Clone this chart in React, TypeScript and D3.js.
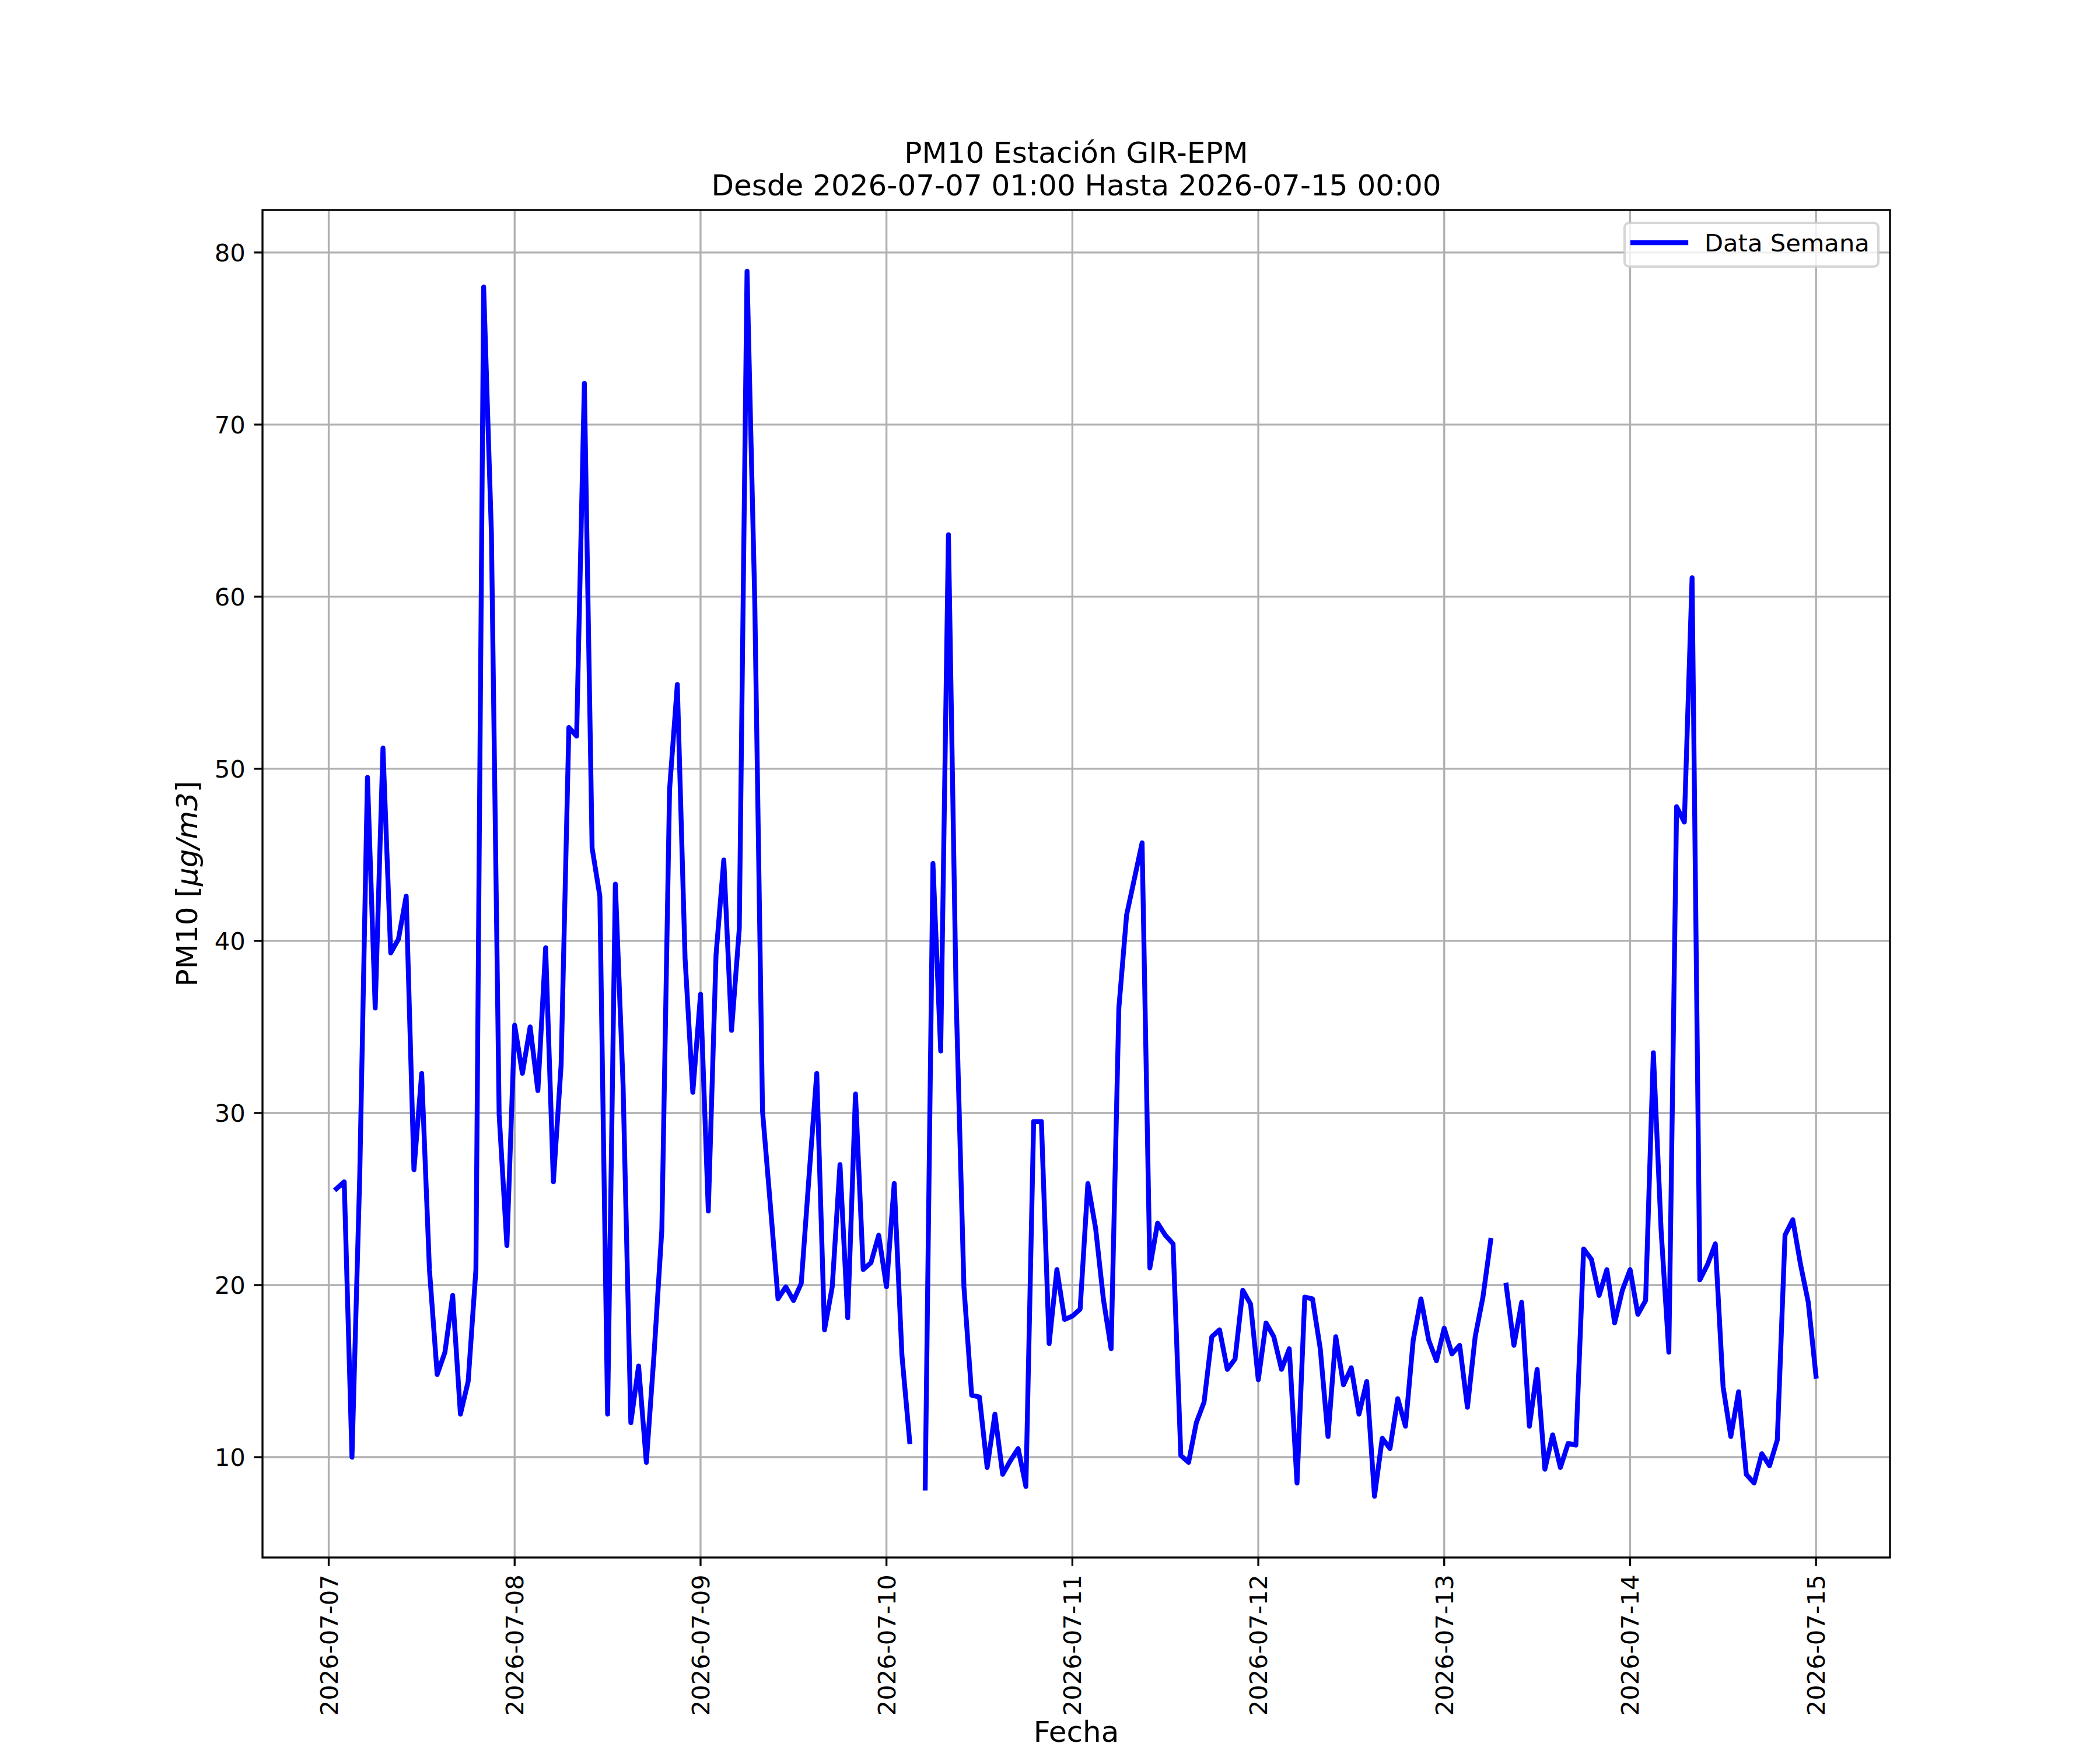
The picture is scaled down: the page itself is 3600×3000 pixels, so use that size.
import React from "react";
import * as d3 from "d3";

// hourly PM10 readings, 2026-07-07 01:00 .. 2026-07-15 00:00 (null = missing hour)
const startTime = Date.UTC(2026, 6, 7, 1);
const pm10: (number | null)[] = [
	25.6, 26.0, 10.0, 26.3, 49.5, 36.1, 51.2, 39.3, 40.1, 42.6, 26.7, 32.3,
	20.9, 14.8, 16.1, 19.4, 12.5, 14.4, 20.9, 78.0, 63.7, 29.9, 22.3, 35.1,
	32.3, 35.0, 31.3, 39.6, 26.0, 32.8, 52.4, 51.9, 72.4, 45.4, 42.6, 12.5,
	43.3, 31.6, 12.0, 15.3, 9.7, 16.0, 23.2, 48.8, 54.9, 39.0, 31.2, 36.9,
	24.3, 39.2, 44.7, 34.8, 40.7, 78.91, 59.7, 30.1, 24.7, 19.2, 19.9, 19.1,
	20.1, 26.3, 32.3, 17.4, 19.9, 27.0, 18.1, 31.1, 20.9, 21.3, 22.9, 19.9,
	25.9, 15.9, 10.9, null, 8.2, 44.5, 33.6, 63.6, 36.6, 19.9, 13.6, 13.5,
	9.4, 12.5, 9.0, 9.8, 10.5, 8.3, 29.5, 29.5, 16.6, 20.9, 18.0, 18.2,
	18.6, 25.9, 23.3, 19.2, 16.3, 36.1, 41.5, 43.6, 45.7, 21.0, 23.6, 22.9,
	22.4, 10.1, 9.7, 12.0, 13.2, 17.0, 17.4, 15.1, 15.7, 19.7, 18.9, 14.5,
	17.8, 17.0, 15.1, 16.3, 8.5, 19.3, 19.2, 16.3, 11.2, 17.0, 14.2, 15.2,
	12.5, 14.4, 7.73, 11.1, 10.5, 13.4, 11.8, 16.8, 19.2, 16.8, 15.6, 17.5,
	16.0, 16.5, 12.9, 17.0, 19.3, 22.6, null, 20.0, 16.5, 19.0, 11.8, 15.1,
	9.3, 11.3, 9.4, 10.8, 10.7, 22.1, 21.5, 19.4, 20.9, 17.8, 19.7, 20.9,
	18.3, 19.1, 33.5, 23.2, 16.1, 47.8, 46.9, 61.1, 20.3, 21.2, 22.4, 14.1,
	11.2, 13.8, 9.0, 8.5, 10.2, 9.5, 11.0, 22.9, 23.8, 21.2, 19.0, 14.7,
];
const yTicks = [10, 20, 30, 40, 50, 60, 70, 80];
const titleLines = ["PM10 Estación GIR-EPM", "Desde 2026-07-07 01:00 Hasta 2026-07-15 00:00"];
const seriesName = "Data Semana";

const W = 3600;
const H = 3000;
const left = 450, right = 3240, top = 360, bottom = 2670;
const px = (pt: number) => (pt * 300) / 72;
const font = "'DejaVu Sans', sans-serif";

const App: React.FC = () => {
	const data = pm10.map((v, i) => ({ t: new Date(startTime + i * 3600e3), v }));
	const t0 = data[0].t.getTime();
	const t1 = data[data.length - 1].t.getTime();
	const tPad = (t1 - t0) * 0.05;
	const x = d3.scaleUtc().domain([new Date(t0 - tPad), new Date(t1 + tPad)]).range([left, right]);

	const vals = pm10.filter((v): v is number => v != null);
	const vMin = d3.min(vals)!;
	const vMax = d3.max(vals)!;
	const vPad = (vMax - vMin) * 0.05;
	const y = d3.scaleLinear().domain([vMin - vPad, vMax + vPad]).range([bottom, top]);

	const xTicks = d3.utcDay.range(d3.utcDay.ceil(x.domain()[0]), x.domain()[1]);
	const fmt = d3.utcFormat("%Y-%m-%d");

	const line = d3
		.line<{ t: Date; v: number | null }>()
		.defined((d) => d.v != null)
		.x((d) => x(d.t))
		.y((d) => y(d.v as number));

	const tickLen = px(3.5);
	const tickPad = px(3.5);
	const thin = px(0.8);
	const tickFs = px(10);
	const labelFs = px(12);

	return (
		<svg width={W} height={H} style={{ position: "absolute", left: 0, top: 0, background: "#fff" }}>
			<rect x={0} y={0} width={W} height={H} fill="#fff" />
			{/* grid */}
			{xTicks.map((d) => (
				<line key={"gx" + d.getTime()} x1={x(d)} x2={x(d)} y1={top} y2={bottom} stroke="#b0b0b0" strokeWidth={thin} />
			))}
			{yTicks.map((v) => (
				<line key={"gy" + v} x1={left} x2={right} y1={y(v)} y2={y(v)} stroke="#b0b0b0" strokeWidth={thin} />
			))}

			<path
				d={line(data) || ""}
				fill="none"
				stroke="#0000ff"
				strokeWidth={px(2)}
				strokeLinejoin="round"
				strokeLinecap="square"
			/>

			{/* spines */}
			<rect x={left} y={top} width={right - left} height={bottom - top} fill="none" stroke="#000" strokeWidth={thin} />

			{/* x ticks */}
			{xTicks.map((d) => (
				<g key={"xt" + d.getTime()} transform={`translate(${x(d)},${bottom})`}>
					<line y1={0} y2={tickLen} stroke="#000" strokeWidth={thin} />
					<text
						transform={`translate(0,${tickLen + tickPad}) rotate(-90)`}
						textAnchor="end"
						dy="0.36em"
						fontFamily={font}
						fontSize={tickFs}
					>
						{fmt(d)}
					</text>
				</g>
			))}

			{/* y ticks */}
			{yTicks.map((v) => (
				<g key={"yt" + v} transform={`translate(${left},${y(v)})`}>
					<line x1={0} x2={-tickLen} stroke="#000" strokeWidth={thin} />
					<text x={-tickLen - tickPad} dy="0.36em" textAnchor="end" fontFamily={font} fontSize={tickFs}>
						{v}
					</text>
				</g>
			))}

			{/* title */}
			{titleLines.map((s, i) => (
				<text key={s} x={(left + right) / 2} y={279 + i * 56} textAnchor="middle" fontFamily={font} fontSize={labelFs}>
					{s}
				</text>
			))}

			{/* axis labels */}
			<text x={(left + right) / 2} y={2986} textAnchor="middle" fontFamily={font} fontSize={labelFs}>
				Fecha
			</text>
			<text transform={`translate(338,${(top + bottom) / 2}) rotate(-90)`} textAnchor="middle" fontFamily={font} fontSize={labelFs}>
				PM10 [<tspan fontStyle="italic">μg/m3</tspan>]
			</text>

			{/* legend */}
			<g>
				<rect x={2785} y={382} width={435} height={75} rx={8} fill="#fff" fillOpacity={0.8} stroke="#cccccc" strokeOpacity={0.8} strokeWidth={px(1)} />
				<line x1={2799} x2={2890} y1={416} y2={416} stroke="#0000ff" strokeWidth={px(2)} strokeLinecap="square" />
				<text x={2922} y={431} fontFamily={font} fontSize={tickFs}>
					{seriesName}
				</text>
			</g>
		</svg>
	);
};

export default App;
